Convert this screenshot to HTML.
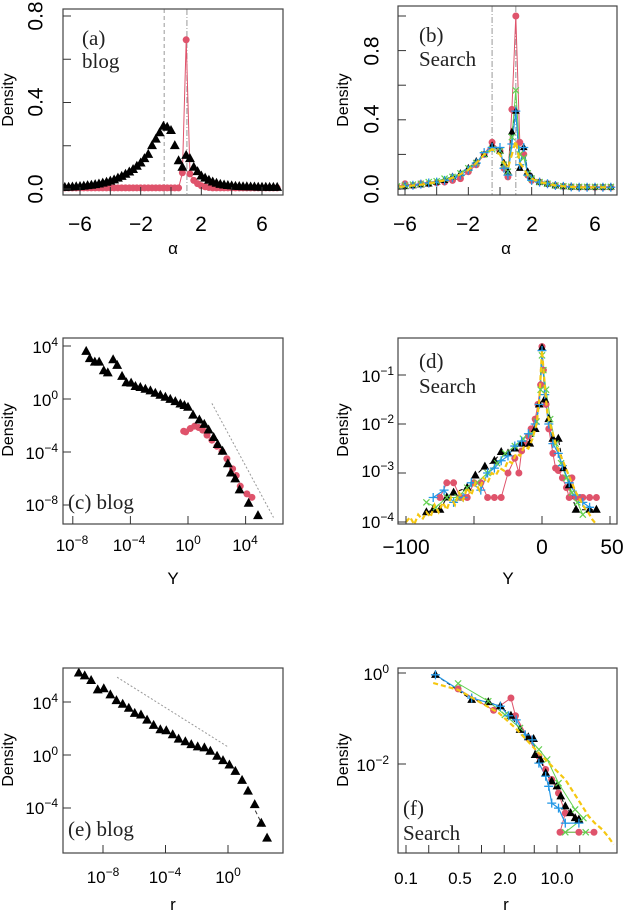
<!DOCTYPE html>
<html><head><meta charset="utf-8"><style>
html,body{margin:0;padding:0;background:#fff;}
svg{display:block;}
text{font-family:"Liberation Sans",sans-serif;fill:#000;}
.serif{font-family:"Liberation Serif",serif;fill:#222;}
.t17{font-size:17px;}
.sup{font-size:12px;}
</style></head><body>
<svg id="fig" width="624" height="912" viewBox="0 0 624 912" xmlns="http://www.w3.org/2000/svg">
<defs>
<clipPath id="cA"><rect x="63" y="9" width="220" height="186"/></clipPath>
<clipPath id="cB"><rect x="398" y="6" width="219" height="189"/></clipPath>
<clipPath id="cC"><rect x="63" y="338" width="220" height="186"/></clipPath>
<clipPath id="cD"><rect x="398" y="338" width="219" height="186"/></clipPath>
<clipPath id="cE"><rect x="63" y="668" width="220" height="185"/></clipPath>
<clipPath id="cF"><rect x="398" y="668" width="219" height="185"/></clipPath>
</defs>
<g>
<text x="37" y="189" transform="rotate(-90 37 189)" font-size="21" text-anchor="middle" dominant-baseline="middle">0.0</text>
<text x="37" y="102" transform="rotate(-90 37 102)" font-size="21" text-anchor="middle" dominant-baseline="middle">0.4</text>
<text x="37" y="16" transform="rotate(-90 37 16)" font-size="21" text-anchor="middle" dominant-baseline="middle">0.8</text>
<text x="9" y="100" transform="rotate(-90 9 100)" font-size="16" text-anchor="middle" dominant-baseline="middle">Density</text>
<text x="80" y="231" font-size="21" text-anchor="middle">−6</text>
<text x="141" y="231" font-size="21" text-anchor="middle">−2</text>
<text x="201" y="231" font-size="21" text-anchor="middle">2</text>
<text x="262" y="231" font-size="21" text-anchor="middle">6</text>
<text x="173" y="254" font-size="17" text-anchor="middle">α</text>
<text class="serif" x="82" y="45" font-size="21">(a)</text>
<text class="serif" x="82" y="68" font-size="21">blog</text>
</g>
<g>
<text x="373" y="189" transform="rotate(-90 373 189)" font-size="21" text-anchor="middle" dominant-baseline="middle">0.0</text>
<text x="373" y="119" transform="rotate(-90 373 119)" font-size="21" text-anchor="middle" dominant-baseline="middle">0.4</text>
<text x="373" y="51" transform="rotate(-90 373 51)" font-size="21" text-anchor="middle" dominant-baseline="middle">0.8</text>
<text x="344" y="100" transform="rotate(-90 344 100)" font-size="16" text-anchor="middle" dominant-baseline="middle">Density</text>
<text x="405" y="231" font-size="21" text-anchor="middle">−6</text>
<text x="468" y="231" font-size="21" text-anchor="middle">−2</text>
<text x="532" y="231" font-size="21" text-anchor="middle">2</text>
<text x="595" y="231" font-size="21" text-anchor="middle">6</text>
<text x="506" y="254" font-size="17" text-anchor="middle">α</text>
<text class="serif" x="419" y="42" font-size="21">(b)</text>
<text class="serif" x="419" y="66" font-size="21">Search</text>
</g>
<g>
<text x="58" y="353" class="t17" text-anchor="end">10<tspan dy="-7" class="sup">4</tspan></text>
<text x="58" y="406" class="t17" text-anchor="end">10<tspan dy="-7" class="sup">0</tspan></text>
<text x="58" y="459" class="t17" text-anchor="end">10<tspan dy="-7" class="sup">−4</tspan></text>
<text x="58" y="511" class="t17" text-anchor="end">10<tspan dy="-7" class="sup">−8</tspan></text>
<text x="9" y="430" transform="rotate(-90 9 430)" font-size="16" text-anchor="middle" dominant-baseline="middle">Density</text>
<text x="72" y="551" class="t17" text-anchor="middle">10<tspan dy="-7" class="sup">−8</tspan></text>
<text x="129" y="551" class="t17" text-anchor="middle">10<tspan dy="-7" class="sup">−4</tspan></text>
<text x="188" y="551" class="t17" text-anchor="middle">10<tspan dy="-7" class="sup">0</tspan></text>
<text x="245" y="551" class="t17" text-anchor="middle">10<tspan dy="-7" class="sup">4</tspan></text>
<text x="173" y="584" font-size="17" text-anchor="middle">Y</text>
<text class="serif" x="68" y="509" font-size="21">(c) blog</text>
</g>
<g>
<text x="394" y="382" class="t17" text-anchor="end">10<tspan dy="-7" class="sup">−1</tspan></text>
<text x="394" y="430" class="t17" text-anchor="end">10<tspan dy="-7" class="sup">−2</tspan></text>
<text x="394" y="477" class="t17" text-anchor="end">10<tspan dy="-7" class="sup">−3</tspan></text>
<text x="394" y="528" class="t17" text-anchor="end">10<tspan dy="-7" class="sup">−4</tspan></text>
<text x="344" y="430" transform="rotate(-90 344 430)" font-size="16" text-anchor="middle" dominant-baseline="middle">Density</text>
<text x="406" y="554" font-size="21" text-anchor="middle">−100</text>
<text x="542" y="554" font-size="21" text-anchor="middle">0</text>
<text x="612" y="554" font-size="21" text-anchor="middle">50</text>
<text x="508" y="584" font-size="17" text-anchor="middle">Y</text>
<text class="serif" x="419" y="368" font-size="21">(d)</text>
<text class="serif" x="419" y="393" font-size="21">Search</text>
</g>
<g>
<text x="58" y="709" class="t17" text-anchor="end">10<tspan dy="-7" class="sup">4</tspan></text>
<text x="58" y="762" class="t17" text-anchor="end">10<tspan dy="-7" class="sup">0</tspan></text>
<text x="58" y="814" class="t17" text-anchor="end">10<tspan dy="-7" class="sup">−4</tspan></text>
<text x="9" y="760" transform="rotate(-90 9 760)" font-size="16" text-anchor="middle" dominant-baseline="middle">Density</text>
<text x="103" y="883" class="t17" text-anchor="middle">10<tspan dy="-7" class="sup">−8</tspan></text>
<text x="165" y="883" class="t17" text-anchor="middle">10<tspan dy="-7" class="sup">−4</tspan></text>
<text x="228" y="883" class="t17" text-anchor="middle">10<tspan dy="-7" class="sup">0</tspan></text>
<text x="173" y="910" font-size="17" text-anchor="middle">r</text>
<text class="serif" x="68" y="836" font-size="21">(e) blog</text>
</g>
<g>
<text x="389" y="680" class="t17" text-anchor="end">10<tspan dy="-7" class="sup">0</tspan></text>
<text x="389" y="771" class="t17" text-anchor="end">10<tspan dy="-7" class="sup">−2</tspan></text>
<text x="344" y="760" transform="rotate(-90 344 760)" font-size="16" text-anchor="middle" dominant-baseline="middle">Density</text>
<text x="406" y="884" class="t17" text-anchor="middle">0.1</text>
<text x="460" y="884" class="t17" text-anchor="middle">0.5</text>
<text x="505" y="884" class="t17" text-anchor="middle">2.0</text>
<text x="557" y="884" class="t17" text-anchor="middle">10.0</text>
<text x="506" y="910" font-size="17" text-anchor="middle">r</text>
<text class="serif" x="403" y="815" font-size="21">(f)</text>
<text class="serif" x="403" y="840" font-size="21">Search</text>
</g>
</svg>
<script>
const gridA = [-7,-6.75,-6.5,-6.25,-6,-5.75,-5.5,-5.25,-5,-4.75,-4.5,-4.25,-4,-3.75,-3.5,-3.25,-3,-2.75,-2.5,-2.25,-2,-1.75,-1.5,-1.25,-1,-0.75,-0.5,-0.25,0,0.25,0.5,0.75,1,1.25,1.5,1.75,2,2.25,2.5,2.75,3,3.25,3.5,3.75,4,4.25,4.5,4.75,5,5.25,5.5,5.75,6,6.25,6.5,6.75,7];
const aBlack = [0.007,0.008,0.009,0.01,0.011,0.013,0.015,0.017,0.02,0.023,0.027,0.031,0.036,0.042,0.05,0.058,0.068,0.078,0.09,0.105,0.12,0.14,0.16,0.2,0.23,0.26,0.29,0.285,0.27,0.2,0.13,0.1,0.155,0.14,0.1,0.08,0.06,0.05,0.04,0.032,0.026,0.021,0.018,0.016,0.014,0.012,0.011,0.01,0.01,0.009,0.009,0.008,0.008,0.008,0.007,0.007,0.007];
const aRed = [0.005,0.005,0.005,0.005,0.005,0.005,0.005,0.005,0.005,0.005,0.005,0.005,0.005,0.005,0.005,0.005,0.005,0.005,0.005,0.005,0.005,0.005,0.005,0.005,0.005,0.005,0.005,0.005,0.005,0.005,0.005,0.075,0.69,0.07,0.04,0.025,0.015,0.01,0.007,0.005,0.005,0.005,0.005,0.005,0.005,0.005,0.005,0.005,0.005,0.005,0.005,0.005,0.005,0.005,0.005,0.005,0.005];
const aVlines = [-0.45, 1.05];

const gridB = [-7,-6.5,-6,-5.5,-5,-4.5,-4,-3.5,-3,-2.5,-2,-1.5,-1,-0.5,0,0.25,0.5,0.75,1,1.25,1.5,1.75,2,2.5,3,3.5,4,4.5,5,5.5,6,6.5,7];
const bBlack = [0.01,0.012,0.015,0.02,0.025,0.03,0.04,0.05,0.07,0.09,0.12,0.16,0.2,0.25,0.22,0.15,0.1,0.33,0.45,0.12,0.24,0.1,0.07,0.04,0.03,0.02,0.015,0.012,0.01,0.01,0.01,0.01,0.01];
const bRed = [0.01,0.012,0.03,0.02,0.03,0.03,0.035,0.04,0.05,0.06,0.1,0.14,0.2,0.27,0.22,0.12,0.07,0.46,1.0,0.27,0.2,0.08,0.05,0.04,0.03,0.02,0.015,0.012,0.01,0.01,0.01,0.01,0.01];
const bGreen = [0.012,0.015,0.02,0.025,0.03,0.04,0.045,0.06,0.07,0.09,0.12,0.15,0.2,0.23,0.22,0.14,0.1,0.3,0.57,0.2,0.18,0.09,0.06,0.04,0.03,0.02,0.016,0.013,0.012,0.012,0.012,0.012,0.012];
const bBlue = [0.01,0.012,0.018,0.022,0.028,0.035,0.04,0.05,0.065,0.08,0.11,0.15,0.21,0.24,0.24,0.12,0.08,0.26,0.45,0.14,0.24,0.08,0.05,0.04,0.03,0.02,0.015,0.012,0.01,0.01,0.01,0.01,0.01];
const bYellow = [0.01,0.012,0.015,0.02,0.025,0.032,0.04,0.05,0.065,0.085,0.11,0.15,0.2,0.23,0.2,0.15,0.12,0.2,0.28,0.15,0.12,0.08,0.06,0.04,0.03,0.02,0.015,0.012,0.01,0.01,0.01,0.01,0.01];
const bVlines = [-0.5, 1.0];

const cBlackLogX = [-7.07,-6.82,-6.47,-6.17,-5.85,-5.57,-5.2,-4.92,-4.58,-4.28,-3.95,-3.65,-3.31,-2.96,-2.61,-2.27,-1.92,-1.57,-1.23,-0.88,-0.53,-0.25,0,0.35,0.79,1.13,1.43,1.78,2.06,2.4,2.77,2.98,3.28,3.58,4.21,4.86];
const cBlackLogY = [3.59,3.04,2.78,2.78,2.13,1.97,2.96,2.53,1.7,1.22,1.19,0.94,0.86,0.73,0.61,0.43,0.28,0.13,-0.03,-0.2,-0.38,-0.5,-0.63,-1.22,-1.59,-1.92,-2.35,-2.91,-3.44,-3.95,-4.89,-5.59,-6.03,-6.86,-7.87,-8.81];
const cRedLogX = [-0.3,-0.16,0.16,0.46,0.74,1.02,1.32,1.66,2.01,2.36,2.7,3.1,3.35,3.63,4.09,4.44];
const cRedLogY = [-2.43,-2.48,-2.23,-2.05,-2.15,-2.35,-2.73,-3.11,-3.57,-3.95,-4.51,-5.27,-5.77,-6.58,-7.16,-7.42];
const cRefLogX = [1.66, 5.94];
const cRefLogY = [-0.33, -8.94];

const dBlackX = [-85,-80,-75,-70,-65,-55,-49,-42,-35,-30,-25,-20,-15,-9,-5,-2,0,2,5,8,12,16,20,25,35,40];
const dBlackLogY = [-3.8,-3.75,-3.75,-3.5,-3.4,-3.3,-3.05,-2.87,-2.75,-2.57,-2.6,-2.5,-2.4,-2.4,-2.1,-1.6,-0.45,-1.5,-1.9,-2.3,-2.3,-2.9,-3.25,-3.75,-3.75,-3.75];
const dRedX = [-75,-70,-65,-60,-55,-50,-45,-40,-35,-30,-25,-20,-17,-15,-12,-10,-8,-5,-3,-1,0,1,3,5,8,10,12,15,18,20,22,25,28,30,35,40];
const dRedLogY = [-3.5,-3.2,-3.2,-3.5,-3.5,-3.2,-3.2,-3.5,-3.5,-3.5,-3.0,-2.7,-3.0,-2.55,-2.4,-2.25,-2.1,-1.9,-1.6,-1.2,-0.42,-0.9,-1.6,-2.1,-2.6,-2.9,-2.95,-3.1,-3.3,-3.5,-3.1,-3.5,-3.5,-3.5,-3.5,-3.5];
const dBlueX = [-80,-72,-65,-58,-52,-45,-40,-35,-30,-25,-20,-15,-10,-5,-2,0,2,5,8,12,15,20,25,30,35];
const dBlueLogY = [-3.5,-3.35,-3.6,-3.5,-3.2,-3.35,-3.0,-2.9,-2.75,-2.65,-2.45,-2.35,-2.2,-2.0,-1.6,-0.5,-1.4,-2.0,-2.4,-2.6,-2.85,-3.2,-3.45,-3.6,-3.7];
const dGreenX = [-85,-78,-70,-62,-55,-48,-40,-33,-27,-20,-14,-8,-4,-1,0,1,3,6,10,14,18,22,26,30];
const dGreenLogY = [-3.6,-3.7,-3.5,-3.5,-3.3,-3.2,-3.0,-2.8,-2.6,-2.45,-2.3,-2.2,-1.95,-1.3,-0.6,-0.9,-1.3,-1.9,-2.4,-2.8,-3.1,-3.4,-3.6,-3.85];
const dYellowX = [-100,-97,-94,-91,-88,-85,-82,-79,-76,-73,-70,-67,-64,-61,-58,-55,-52,-49,-46,-43,-40,-37,-34,-31,-28,-25,-22,-19,-16,-13,-10,-7,-4,-2,0,2,4,7,10,13,16,19,22,25,28,31,34,37,40];
const dYellowLogY = [-4.0,-3.9,-4.05,-3.85,-3.95,-3.8,-3.9,-3.65,-3.8,-3.6,-3.75,-3.5,-3.65,-3.4,-3.55,-3.3,-3.45,-3.2,-3.35,-3.1,-3.2,-3.0,-3.05,-2.9,-2.95,-2.75,-2.8,-2.6,-2.65,-2.45,-2.5,-2.3,-2.0,-1.5,-0.5,-1.2,-1.8,-2.1,-2.4,-2.6,-2.8,-3.0,-3.2,-3.4,-3.55,-3.7,-3.8,-3.95,-4.05];

const eLogX = [-9.55,-9.17,-8.76,-8.34,-7.95,-7.53,-7.14,-6.74,-6.35,-5.97,-5.57,-5.18,-4.76,-4.33,-3.95,-3.54,-3.16,-2.73,-2.35,-1.94,-1.51,-1.13,-0.7,-0.32,0.09,0.47,0.9,1.28,1.71,2.13,2.5];
const eLogY = [6.18,5.97,5.62,4.91,4.99,4.53,4.1,3.82,3.52,3.14,3.01,2.63,2.23,1.9,1.82,1.52,1.19,0.99,0.78,0.61,0.53,0.28,-0.1,-0.43,-0.76,-1.24,-1.92,-2.73,-3.75,-5.16,-6.28];
const eRefLogX = [-7.1, 0];
const eRefLogY = [5.87, 0.61];
const eTailLogX = [1.75, 2.28];
const eTailLogY = [-4.2, -5.47];

const fBlackLogX = [-0.61,-0.13,0.09,0.25,0.39,0.51,0.62,0.69,0.71,0.78,0.85,0.93,1.0,1.05,1.11,1.18,1.24,1.29];
const fBlackLogY = [-0.04,-0.59,-0.64,-0.73,-0.94,-1.25,-1.41,-1.45,-1.8,-1.9,-2.2,-2.38,-2.49,-2.71,-2.93,-3.08,-3.19,-3.22];
const fRedLogX = [-0.31,0.16,0.39,0.45,0.62,0.76,0.85,0.93,1.02,1.11,1.04,1.29,1.49];
const fRedLogY = [-0.35,-0.82,-0.55,-0.94,-1.43,-1.83,-2.12,-2.34,-2.64,-3.08,-3.5,-3.5,-3.5];
const fGreenLogX = [-0.31,0.09,0.31,0.51,0.76,0.87,1.02,1.24,1.35,1.11,1.38];
const fGreenLogY = [-0.23,-0.62,-0.92,-1.21,-1.68,-1.9,-2.42,-3.0,-3.19,-3.5,-3.5];
const fBlueLogX = [-0.61,-0.13,0.25,0.36,0.46,0.58,0.67,0.76,0.85,0.89,0.93,1.02,1.11,1.29];
const fBlueLogY = [-0.04,-0.55,-0.73,-0.94,-1.03,-1.36,-1.47,-1.98,-2.27,-2.49,-2.86,-2.97,-3.3,-3.3];
const fYellowLogX = [-0.64,-0.31,0.23,0.45,0.76,1.11,1.42,1.5,1.6,1.68,1.75];
const fYellowLogY = [-0.22,-0.37,-0.88,-1.21,-1.76,-2.34,-3.15,-3.3,-3.44,-3.6,-3.77];

const NS = 'http://www.w3.org/2000/svg';
const svg = document.getElementById('fig');
const COL = {black:'#000', red:'#DF536B', green:'#61D04F', blue:'#2297E6', yellow:'#F5C710'};
function el(tag, attrs, parent){const e=document.createElementNS(NS,tag);for(const k in attrs)e.setAttribute(k,attrs[k]);(parent||svg).appendChild(e);return e;}
function lin(d0,d1,r0,r1){return v=>r0+(v-d0)*(r1-r0)/(d1-d0);}

function panel(name, box, clipId){
  const g = el('g',{});
  
  
  const plot = el('g',{'clip-path':'url(#'+clipId+')'}, g);
  
  
  const frame = el('rect',{x:box[0],y:box[1],width:box[2]-box[0],height:box[3]-box[1],fill:'none',stroke:'#444','stroke-width':1.2}, g);
  
  
  return {g, plot, box};
}
function ticksX(p, vals, sx){
  vals.forEach(v=>{const x=sx(v);const t=el('line',{x1:x,x2:x,y1:p.box[3],y2:p.box[3]-8,stroke:'#333','stroke-width':1},p.g);
    
    });
}
function ticksY(p, vals, sy){
  vals.forEach(v=>{const y=sy(v);const t=el('line',{x1:p.box[0],x2:p.box[0]+8,y1:y,y2:y,stroke:'#333','stroke-width':1},p.g);
    
    });
}
function line(p, xs, ys, sx, sy, color, w, dash, nm){
  const pts = xs.map((x,i)=>sx(x).toFixed(1)+','+sy(ys[i]).toFixed(1)).join(' ');
  const l = el('polyline',{points:pts,fill:'none',stroke:color,'stroke-width':w,'stroke-dasharray':dash||'none'},p.plot);
  
  
}
function markers(p, xs, ys, sx, sy, shape, color, size, nm){
  const g = el('g',{},p.plot);
  
  
  xs.forEach((xv,i)=>{
    const x=sx(xv), y=sy(ys[i]); let m;
    if(shape==='tri'){const s=size;m=el('polygon',{points:`${x},${y-s*0.62} ${x-s*0.55},${y+s*0.38} ${x+s*0.55},${y+s*0.38}`,fill:color},g);}
    else if(shape==='circ'){m=el('circle',{cx:x,cy:y,r:size/2,fill:color},g);}
    else if(shape==='plus'){const s=size/2;m=el('path',{d:`M${x-s},${y}H${x+s}M${x},${y-s}V${y+s}`,stroke:color,'stroke-width':1.3},g);}
    else {const s=size/2.6;m=el('path',{d:`M${x-s},${y-s}L${x+s},${y+s}M${x-s},${y+s}L${x+s},${y-s}`,stroke:color,'stroke-width':1.2},g);}
    
    
  });
}
function vline(p, x, dash, nm){
  const l=el('line',{x1:x,x2:x,y1:p.box[1],y2:p.box[3],stroke:'#999','stroke-width':1,'stroke-dasharray':dash},p.plot);
  
  
}

{
  const p = panel('panel-a', [63,9,283,195], 'cA');
  const sx = lin(0,6,171,262), sy = lin(0,0.8,189,16);
  ticksX(p,[-6,-4,-2,0,2,4,6],sx); ticksY(p,[0,0.2,0.4,0.6,0.8],sy);
  vline(p, sx(aVlines[0]), '4,3', 'mean-line-a');
  vline(p, sx(aVlines[1]), '6,2,1,2', 'mode-line-a');
  line(p, gridA, aRed, sx, sy, COL.red, 1, null, 'red-line-a');
  markers(p, gridA, aRed, sx, sy, 'circ', COL.red, 7, 'red-series-a');
  markers(p, gridA, aBlack, sx, sy, 'tri', COL.black, 9, 'black-series-a');
}
{
  const p = panel('panel-b', [398,6,617,195], 'cB');
  const sx = lin(0,6,500,595), sy = lin(0,1,189,16);
  ticksX(p,[-6,-4,-2,0,2,4,6],sx); ticksY(p,[0,0.2,0.4,0.6,0.8,1.0],sy);
  vline(p, sx(bVlines[0]), '6,2,1,2', 'mean-line-b');
  vline(p, sx(bVlines[1]), '6,2,1,2', 'mode-line-b');
  line(p, gridB, bRed, sx, sy, COL.red, 1, null, 'red-line-b');
  line(p, gridB, bBlack, sx, sy, COL.black, 1, '4,3', 'black-line-b');
  line(p, gridB, bGreen, sx, sy, COL.green, 1, null, 'green-line-b');
  line(p, gridB, bBlue, sx, sy, COL.blue, 1.2, null, 'blue-line-b');
  markers(p, gridB, bRed, sx, sy, 'circ', COL.red, 7, 'red-series-b');
  markers(p, gridB, bBlack, sx, sy, 'tri', COL.black, 7, 'black-series-b');
  markers(p, gridB, bGreen, sx, sy, 'x', COL.green, 8, 'green-series-b');
  markers(p, gridB, bBlue, sx, sy, 'plus', COL.blue, 9, 'blue-series-b');
  line(p, gridB, bYellow, sx, sy, COL.yellow, 2.2, '6,4', 'yellow-line-b');
}
{
  const p = panel('panel-c', [63,338,283,524], 'cC');
  const sx = lin(0,4,188,245.6), sy = lin(0,4,399,346);
  ticksX(p,[-8,-4,0,4],sx); ticksY(p,[-8,-4,0,4],sy);
  line(p, cRefLogX, cRefLogY, sx, sy, '#999', 1, '2,2', 'reference-slope-c');
  markers(p, cRedLogX, cRedLogY, sx, sy, 'circ', COL.red, 7, 'red-series-c');
  markers(p, cBlackLogX, cBlackLogY, sx, sy, 'tri', COL.black, 9, 'black-series-c');
}
{
  const p = panel('panel-d', [398,338,617,524], 'cD');
  const sx = lin(-100,0,406,542), sy = lin(-1,-4,375,522);
  ticksX(p,[-100,-50,0,50],sx); ticksY(p,[-1,-2,-3,-4],sy);
  line(p, dRedX, dRedLogY, sx, sy, COL.red, 1, null, 'red-line-d');
  line(p, dBlackX, dBlackLogY, sx, sy, COL.black, 1, '4,3', 'black-line-d');
  line(p, dGreenX, dGreenLogY, sx, sy, COL.green, 1, null, 'green-line-d');
  line(p, dBlueX, dBlueLogY, sx, sy, COL.blue, 1.2, null, 'blue-line-d');
  markers(p, dRedX, dRedLogY, sx, sy, 'circ', COL.red, 7, 'red-series-d');
  markers(p, dBlackX, dBlackLogY, sx, sy, 'tri', COL.black, 8, 'black-series-d');
  markers(p, dGreenX, dGreenLogY, sx, sy, 'x', COL.green, 8, 'green-series-d');
  markers(p, dBlueX, dBlueLogY, sx, sy, 'plus', COL.blue, 9, 'blue-series-d');
  line(p, dYellowX, dYellowLogY, sx, sy, COL.yellow, 2.2, '5,3', 'yellow-line-d');
}
{
  const p = panel('panel-e', [63,668,283,853], 'cE');
  const sx = lin(0,-8,228,103), sy = lin(0,4,755,702);
  ticksX(p,[-8,-4,0],sx); ticksY(p,[-4,0,4],sy);
  line(p, eRefLogX, eRefLogY, sx, sy, '#999', 1, '2,2', 'reference-slope-e');
  line(p, eTailLogX, eTailLogY, sx, sy, '#333', 1, '4,3', 'tail-fit-e');
  markers(p, eLogX, eLogY, sx, sy, 'tri', COL.black, 9, 'black-series-e');
}
{
  const p = panel('panel-f', [398,668,617,853], 'cF');
  const sx = lin(-1,1,406,557), sy = lin(0,-2,673,764);
  const tv=[0.1,0.2,0.5,1,2,5,10,20]; ticksX(p,tv.map(Math.log10),sx); ticksY(p,[0,-2],sy);
  line(p, fRedLogX, fRedLogY, sx, sy, COL.red, 1, null, 'red-line-f');
  line(p, fBlackLogX, fBlackLogY, sx, sy, COL.black, 1, '4,3', 'black-line-f');
  line(p, fGreenLogX, fGreenLogY, sx, sy, COL.green, 1, null, 'green-line-f');
  line(p, fBlueLogX, fBlueLogY, sx, sy, COL.blue, 1.2, null, 'blue-line-f');
  markers(p, fRedLogX, fRedLogY, sx, sy, 'circ', COL.red, 7, 'red-series-f');
  markers(p, fBlackLogX, fBlackLogY, sx, sy, 'tri', COL.black, 8, 'black-series-f');
  markers(p, fGreenLogX, fGreenLogY, sx, sy, 'x', COL.green, 8, 'green-series-f');
  markers(p, fBlueLogX, fBlueLogY, sx, sy, 'plus', COL.blue, 9, 'blue-series-f');
  line(p, fYellowLogX, fYellowLogY, sx, sy, COL.yellow, 2.2, '5,3', 'yellow-line-f');
}
</script>
</body></html>
